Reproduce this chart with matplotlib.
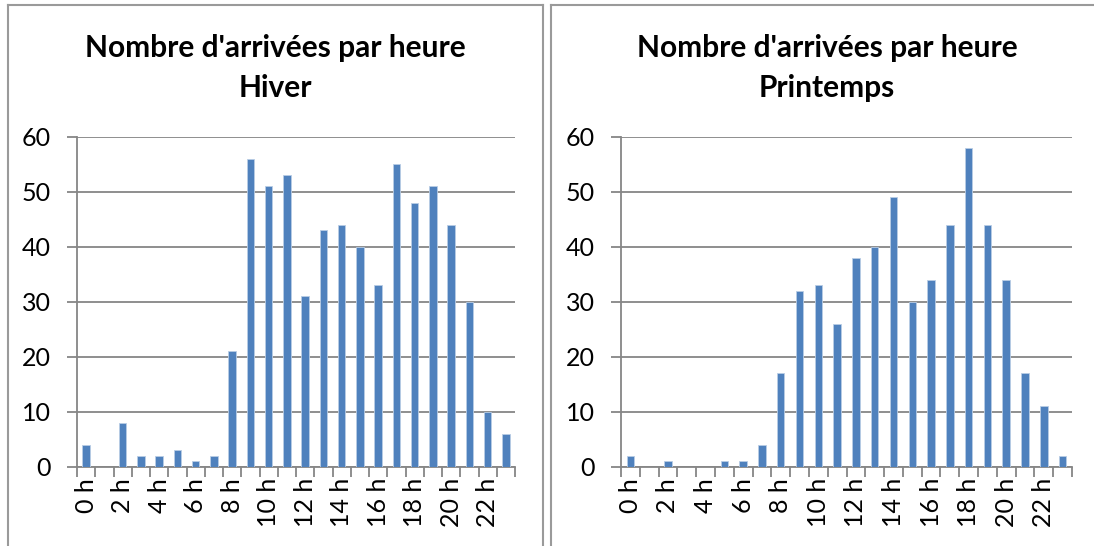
import matplotlib
matplotlib.use("Agg")
import matplotlib.pyplot as plt
from matplotlib.lines import Line2D
import numpy as np

hours = list(range(24))
hour_labels = [f"{h} h" if h % 2 == 0 else "" for h in hours]
hiver = [4, 0, 8, 2, 2, 3, 1, 2, 21, 56, 51, 53, 31, 43, 44, 40, 33, 55, 48, 51, 44, 30, 10, 6]
printemps = [2, 0, 1, 0, 0, 1, 1, 4, 17, 32, 33, 26, 38, 40, 49, 30, 34, 44, 58, 44, 34, 17, 11, 2]
titles = ["Nombre d'arrivées par heure\nHiver", "Nombre d'arrivées par heure\nPrintemps"]
yticks = [0, 10, 20, 30, 40, 50, 60]

W, H = 1094, 546
fig = plt.figure(figsize=(W / 100, H / 100), dpi=100)
FONT = "Lato"
BAR = "#4F81BD"
GRID = "#868686"

def fx(px):
    return px / W

def fy(py):
    return 1 - py / H

# panel borders
border = "#9a9a9a"
for (x0, x1) in [(8, 543), (551, 1100)]:
    fig.add_artist(Line2D([fx(x0), fx(x0)], [fy(5), fy(560)], color=border, lw=1.5, transform=fig.transFigure))
    fig.add_artist(Line2D([fx(x0), fx(x1)], [fy(5), fy(5)], color=border, lw=1.5, transform=fig.transFigure))
fig.add_artist(Line2D([fx(543), fx(543)], [fy(5), fy(560)], color=border, lw=1.5, transform=fig.transFigure))

panels = [((77, 515), hiver, 275), ((621, 1072), printemps, 827)]
top, bottom = 136.7, 467.0
for i, ((x0, x1), vals, tcx) in enumerate(panels):
    ax = fig.add_axes([fx(x0), fy(bottom), fx(x1 - x0), (bottom - top) / H])
    ax.bar(hours, vals, width=0.4, color=BAR, edgecolor="#B9CDE5", linewidth=0.6, zorder=3)
    ax.set_xlim(-0.5, 23.5)
    ax.set_ylim(0, 60)
    ax.set_yticks(yticks)
    ax.set_yticklabels([str(v) for v in yticks], fontsize=18, family=FONT)
    ax.yaxis.grid(True, color=GRID, lw=1.3, zorder=0)
    ax.set_axisbelow(True)
    for s in ["top", "right"]:
        ax.spines[s].set_visible(False)
    for s in ["left", "bottom"]:
        ax.spines[s].set_color(GRID)
        ax.spines[s].set_linewidth(1.3)
    ax.tick_params(axis="y", length=7, color=GRID, width=1.3, pad=12)
    # ticks at category boundaries
    ax.set_xticks(np.arange(-0.5, 24, 1))
    ax.set_xticklabels([])
    ax.tick_params(axis="x", which="major", length=7, color=GRID, width=1.3)
    ax.set_xticks(hours, minor=True)
    ax.set_xticklabels(hour_labels, minor=True, rotation=90, fontsize=18, family=FONT)
    ax.tick_params(axis="x", which="minor", length=0, pad=8)
    fig.text(fx(tcx), fy(68), titles[i], ha="center", va="center", fontsize=21.5,
             fontweight="bold", family=FONT, linespacing=1.55)

fig.savefig("out.png", dpi=100)
